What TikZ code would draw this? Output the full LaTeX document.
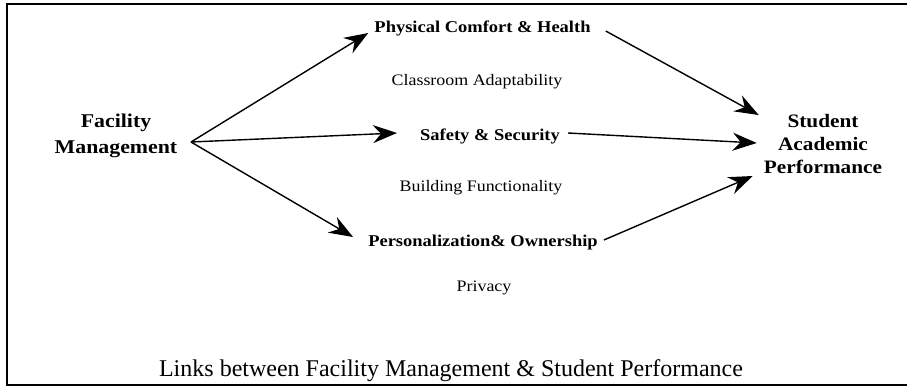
\documentclass[tikz,border=0pt]{standalone}
\usepackage{fontspec}
\setmainfont{Liberation Serif}
\newfontfamily\labfont{Liberation Serif}[FakeStretch=1.12]
\usetikzlibrary{arrows.meta}
\begin{document}
\begin{tikzpicture}[x=1pt,y=-1pt,
  blab/.style={font=\labfont\bfseries\fontsize{16.5}{18}\selectfont, inner sep=0pt, anchor=base, text height=12pt, text depth=4pt},
  rlab/.style={font=\labfont\fontsize{16}{18}\selectfont, inner sep=0pt, anchor=base},
  bigl/.style={align=center, inner sep=0pt},
  link/.style={line width=1.4pt, -{Stealth[length=24pt,width=18pt,inset=8pt]}},
  frameline/.style={line width=2pt}]
\useasboundingbox (0,0) rectangle (907,388);
\draw[frameline] (907,4) -- (7,4) -- (7,385) -- (907,385);

\node[bigl, font=\labfont\bfseries\fontsize{19.5}{26}\selectfont] (fm) at (116,135.5) {Facility\\Management};
\node[bigl, font=\labfont\bfseries\fontsize{19}{23}\selectfont] (stu) at (823,143.6) {Student\\Academic\\Performance};

\node[blab] (phys) at (482.5,32) {Physical Comfort \& Health};
\node[rlab] (cls) at (477,85) {Classroom Adaptability};
\node[blab] (saf) at (490,140) {Safety \& Security};
\node[rlab] (bld) at (481,191) {Building Functionality};
\node[blab] (pers) at (483,246) {Personalization\& Ownership};
\node[rlab] (prv) at (484,291) {Privacy};

\node[font=\fontsize{24}{28}\selectfont, inner sep=0pt, anchor=base] (cap) at (451,376) {Links between Facility Management \& Student Performance};

\coordinate (fmv) at (191,142);
\draw[link] (fmv) -- ([xshift=-6pt,yshift=-5pt]phys.west);
\draw[link] (fmv) -- ([xshift=-23pt,yshift=3pt]saf.west);
\draw[link] (fmv) -- ([xshift=-15pt,yshift=5pt]pers.west);

\draw[link] ([xshift=15pt,yshift=-3pt]phys.east) -- ([xshift=-5pt,yshift=28.6pt]stu.west);
\draw[link] ([xshift=8pt,yshift=3pt]saf.east) -- ([xshift=-7pt,yshift=0.6pt]stu.west);
\draw[link] ([xshift=6pt,yshift=2pt]pers.east) -- ([xshift=-11pt,yshift=-32.4pt]stu.west);
\end{tikzpicture}
\end{document}
